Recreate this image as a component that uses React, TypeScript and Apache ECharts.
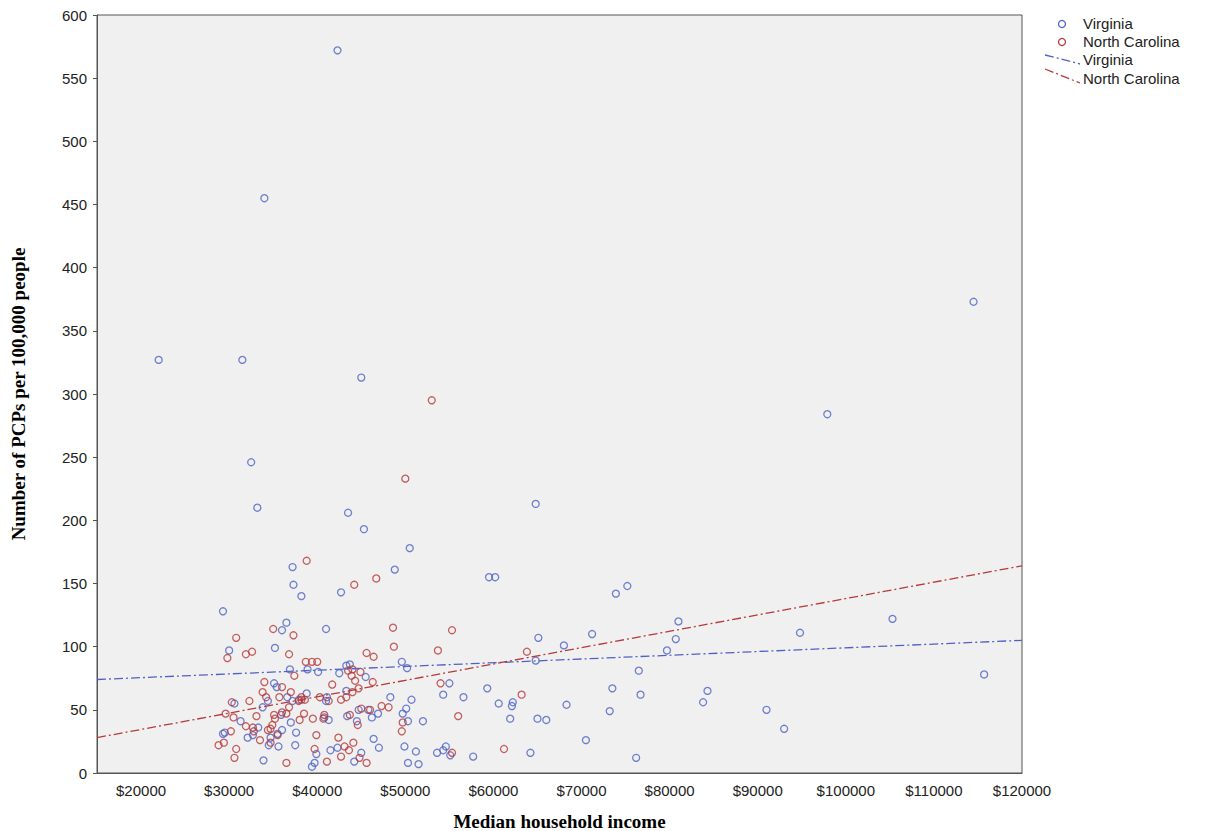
import { useEffect, useRef } from "react";
import * as echarts from "echarts";

const virginia: [number, number][] = [
  [22000, 327], [31500, 327], [34000, 455], [42300, 572], [45000, 313], [32500, 246], [33200, 210],
  [43500, 206], [45300, 193], [50500, 178], [48800, 161], [37200, 163], [37300, 149], [38200, 140],
  [42700, 143], [29300, 128], [36500, 119], [41000, 114], [59500, 155], [60200, 155], [64800, 213],
  [73900, 142], [75200, 148], [81000, 120], [80700, 106], [71200, 110], [65100, 107], [68000, 101],
  [79700, 97], [94800, 111], [105300, 122], [114500, 373], [97900, 284], [115700, 78], [91000, 50],
  [93000, 35], [84300, 65], [83800, 56], [76500, 81], [76700, 62], [73500, 67], [73200, 49],
  [70500, 26], [76200, 12], [68300, 54], [65000, 43], [64800, 89], [64200, 16], [62200, 56],
  [61900, 43], [60600, 55], [59300, 67], [57700, 13], [56600, 60], [55000, 71], [54300, 62],
  [54600, 21], [55100, 14], [53600, 16], [52000, 41], [51200, 17], [51500, 7], [50700, 58],
  [50300, 41], [50100, 51], [49700, 47], [49600, 88], [50200, 83], [49900, 21], [50300, 8],
  [48300, 60], [47000, 20], [46400, 27], [46200, 44], [45800, 50], [45500, 76], [45000, 16],
  [44500, 41], [44200, 9], [43700, 86], [43300, 85], [43300, 65], [42500, 79], [42300, 20],
  [41300, 42], [41100, 60], [41000, 57], [40100, 80], [39700, 8], [39900, 15], [39400, 5],
  [38800, 63], [37900, 58], [37600, 32], [37500, 22], [37200, 57], [36900, 82], [36600, 60],
  [36000, 34], [35900, 46], [35500, 31], [35400, 68], [35200, 99], [35100, 71], [34700, 28],
  [34500, 22], [34400, 57], [33800, 52], [33300, 36], [33900, 10], [32100, 28], [31300, 41],
  [29300, 31], [29500, 32], [30000, 97], [36000, 113], [30600, 55], [43400, 45], [44700, 50],
  [40800, 44], [38900, 82], [32700, 30], [35600, 21], [46900, 47], [41500, 18], [37000, 40],
  [54300, 18], [66000, 42], [62100, 53],
];

const northCarolina: [number, number][] = [
  [53000, 295], [50000, 233], [38800, 168], [46700, 154], [44200, 149], [55300, 113], [48600, 115],
  [35000, 114], [37300, 109], [30800, 107], [32600, 96], [31900, 94], [29800, 91], [36800, 94],
  [39400, 88], [38700, 88], [45600, 95], [46400, 92], [53700, 97], [63800, 96], [63200, 62],
  [61200, 19], [56000, 45], [55300, 16], [54000, 71], [49700, 40], [49600, 33], [48100, 52],
  [47300, 53], [48700, 100], [46300, 72], [46000, 50], [45000, 51], [44900, 80], [44700, 67],
  [44300, 73], [44000, 64], [43900, 77], [43700, 46], [43500, 81], [43300, 60], [42700, 58],
  [42400, 28], [42700, 13], [43100, 21], [43600, 18], [44600, 38], [44100, 24], [44800, 12],
  [45600, 8], [41700, 70], [41300, 57], [41100, 9], [40800, 46], [40700, 43], [40300, 60],
  [39700, 19], [39500, 43], [39900, 30], [38600, 58], [38500, 47], [38200, 60], [38000, 42],
  [37900, 57], [37400, 77], [37000, 64], [36800, 52], [36500, 47], [36500, 8], [36000, 68],
  [35700, 60], [35100, 46], [35200, 43], [34900, 38], [34700, 24], [34400, 34], [34200, 60],
  [33800, 64], [33500, 26], [33100, 45], [32800, 33], [32700, 36], [32300, 57], [31900, 37],
  [30800, 19], [30600, 12], [30500, 44], [30300, 56], [30200, 33], [29600, 47], [29400, 24],
  [28800, 22], [34700, 35], [35500, 30], [38200, 58], [40000, 88], [44000, 82], [36000, 48],
  [34000, 72],
];

const virginiaFit: [number, number][] = [[15000, 74], [120000, 105]];
const ncFit: [number, number][] = [[15000, 28], [120000, 164]];

const BLUE = "#4e62c4";
const RED = "#b73a3a";
const SANS = "Liberation Sans, Arial, sans-serif";
const SERIF = "Liberation Serif, Times New Roman, serif";

export default function App() {
  const ref = useRef<HTMLDivElement>(null);

  useEffect(() => {
    if (!ref.current) return;
    const chart = echarts.init(ref.current, null, { renderer: "svg" });
    const dash = [9, 3, 2, 3];
    const legendText = { fontFamily: SANS, fontSize: 15, fill: "#222" };
    chart.setOption({
      animation: false,
      backgroundColor: "#fff",
      grid: {
        left: 97, right: 190, top: 15, bottom: 58,
        outerBoundsMode: "none",
        show: true, backgroundColor: "#f0f0f0", borderColor: "#555", borderWidth: 1,
      },
      xAxis: {
        type: "value", min: 15000, max: 120000, interval: 5000,
        name: "Median household income", nameLocation: "middle", nameGap: 39,
        nameTextStyle: { fontFamily: SERIF, fontWeight: "bold", fontSize: 19, color: "#000" },
        axisLine: { lineStyle: { color: "#555" } },
        axisTick: { show: false },
        splitLine: { show: false },
        axisLabel: {
          fontFamily: SANS, fontSize: 15, color: "#222", margin: 10,
          formatter: (v: number) => (v % 10000 === 0 ? "$" + v : ""),
        },
      },
      yAxis: {
        type: "value", min: 0, max: 600, interval: 50,
        name: "Number of PCPs per 100,000 people", nameLocation: "middle", nameGap: 69,
        nameTextStyle: { fontFamily: SERIF, fontWeight: "bold", fontSize: 19, color: "#000" },
        axisLine: { show: true, lineStyle: { color: "#555" } },
        axisTick: { show: true, length: 4, lineStyle: { color: "#555" } },
        splitLine: { show: false },
        axisLabel: { fontFamily: SANS, fontSize: 15, color: "#222", margin: 10 },
      },
      series: [
        {
          type: "scatter", data: virginia, symbol: "circle", symbolSize: 7,
          itemStyle: { color: "transparent", borderColor: BLUE, borderWidth: 1.3 },
        },
        {
          type: "scatter", data: northCarolina, symbol: "circle", symbolSize: 7,
          itemStyle: { color: "transparent", borderColor: RED, borderWidth: 1.3 },
        },
        {
          type: "line", data: virginiaFit, showSymbol: false,
          lineStyle: { color: BLUE, width: 1.3, type: dash },
        },
        {
          type: "line", data: ncFit, showSymbol: false,
          lineStyle: { color: RED, width: 1.3, type: dash },
        },
      ],
      graphic: [
        { type: "circle", shape: { cx: 1062, cy: 24, r: 3.5 }, style: { fill: "none", stroke: BLUE, lineWidth: 1.3 } },
        { type: "text", x: 1083, y: 16, style: { text: "Virginia", ...legendText } },
        { type: "circle", shape: { cx: 1062, cy: 42, r: 3.5 }, style: { fill: "none", stroke: RED, lineWidth: 1.3 } },
        { type: "text", x: 1083, y: 34, style: { text: "North Carolina", ...legendText } },
        { type: "line", shape: { x1: 1045, y1: 55, x2: 1080, y2: 64 }, style: { stroke: BLUE, lineWidth: 1.3, lineDash: dash } },
        { type: "text", x: 1083, y: 52, style: { text: "Virginia", ...legendText } },
        { type: "line", shape: { x1: 1045, y1: 69, x2: 1080, y2: 83 }, style: { stroke: RED, lineWidth: 1.3, lineDash: dash } },
        { type: "text", x: 1083, y: 71, style: { text: "North Carolina", ...legendText } },
      ],
    });
    return () => chart.dispose();
  }, []);

  return <div ref={ref} style={{ position: "absolute", left: 0, top: 0, width: 1212, height: 831 }} />;
}
